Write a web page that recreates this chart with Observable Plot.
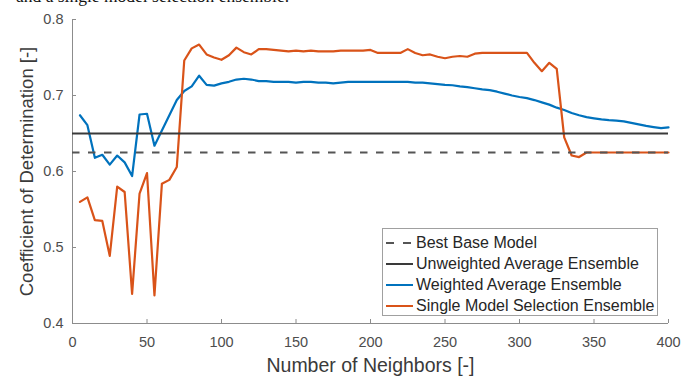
<!DOCTYPE html>
<html><head><meta charset="utf-8">
<script src="https://cdn.jsdelivr.net/npm/d3@7"></script>
<script src="https://cdn.jsdelivr.net/npm/@observablehq/plot@0.6"></script>
<style>
html,body{margin:0;padding:0;background:#fff;}
#wrap{position:relative;width:694px;height:376px;overflow:hidden;background:#fff;}
#cap{position:absolute;left:16px;top:-12.5px;font-size:17.5px;line-height:17.5px;font-family:"Liberation Serif","Times New Roman",serif;color:#111;white-space:nowrap;}
#legend{position:absolute;left:382px;top:228px;width:276px;height:88px;border:1px solid #a0a0a0;background:#fff;box-sizing:border-box;font-family:"Liberation Sans",Arial,sans-serif;font-size:16px;color:#262626;}
.row{position:absolute;left:1px;height:21px;display:flex;align-items:center;white-space:nowrap;}
.row svg{margin-left:1px;margin-right:3px;display:block;}
</style>
</head><body>
<div id="wrap">
  <div id="cap">and a single model selection ensemble.</div>
  <div id="chart"></div>
  <div id="legend"></div>
</div>
<script>
const neighbors = [5,10,15,20,25,30,35,40,45,50,55,60,65,70,75,80,85,90,95,100,
  105,110,115,120,125,130,135,140,145,150,155,160,165,170,175,180,185,190,195,200,
  205,210,215,220,225,230,235,240,245,250,255,260,265,270,275,280,285,290,295,300,
  305,310,315,320,325,330,335,340,345,350,355,360,365,370,375,380,385,390,395,400];

const weighted = [0.674,0.661,0.618,0.622,0.609,0.621,0.612,0.594,0.675,0.676,
  0.634,0.654,0.674,0.694,0.706,0.712,0.726,0.714,0.713,0.716,
  0.718,0.721,0.722,0.721,0.719,0.719,0.718,0.718,0.718,0.717,
  0.718,0.718,0.717,0.717,0.716,0.717,0.718,0.718,0.718,0.718,
  0.718,0.718,0.718,0.718,0.718,0.717,0.717,0.716,0.715,0.714,
  0.7135,0.712,0.711,0.7095,0.708,0.707,0.705,0.7025,0.700,0.698,
  0.6965,0.694,0.691,0.688,0.684,0.681,0.677,0.674,0.6715,0.670,
  0.6685,0.6675,0.667,0.666,0.664,0.662,0.660,0.6585,0.657,0.658];

const single = [0.560,0.566,0.536,0.535,0.489,0.580,0.573,0.439,0.571,0.598,
  0.437,0.584,0.589,0.606,0.746,0.762,0.767,0.754,0.750,0.747,
  0.753,0.763,0.757,0.754,0.761,0.761,0.760,0.759,0.758,0.759,
  0.758,0.759,0.758,0.758,0.758,0.759,0.759,0.759,0.759,0.760,
  0.756,0.756,0.756,0.756,0.761,0.756,0.753,0.754,0.751,0.749,
  0.751,0.752,0.751,0.755,0.756,0.756,0.756,0.756,0.756,0.756,
  0.756,0.743,0.732,0.743,0.735,0.645,0.621,0.619,0.625,0.625,
  0.625,0.625,0.625,0.625,0.625,0.625,0.625,0.625,0.625,0.625];

const bestBase = 0.625;
const unweighted = 0.65;

const xTicks = [0,50,100,150,200,250,300,350,400];
const yTicks = [0.4,0.5,0.6,0.7,0.8];
const xTitle = "Number of Neighbors [-]";
const yTitle = "Coefficient of Determination [-]";

const seriesNames = ["Best Base Model","Unweighted Average Ensemble","Weighted Average Ensemble","Single Model Selection Ensemble"];
const seriesColors = ["#555555","#3a3a3a","#0072BD","#D95319"];
const seriesDash = ["8,9", null, null, null];

const weightedData = neighbors.map((n, i) => ({n, v: weighted[i]}));
const singleData = neighbors.map((n, i) => ({n, v: single[i]}));

const axisColor = "#8c8c8c";

const chart = Plot.plot({
  width: 694, height: 376,
  marginLeft: 72, marginRight: 26, marginTop: 19, marginBottom: 53,
  style: {fontFamily: '"Liberation Sans", Arial, sans-serif', fontSize: "14.5px", color: "#4d4d4d", background: "transparent"},
  x: {domain: [0, 400]},
  y: {domain: [0.4, 0.8]},
  marks: [
    Plot.ruleY([0.4], {stroke: axisColor, strokeWidth: 1}),
    Plot.ruleX([0], {stroke: axisColor, strokeWidth: 1}),
    Plot.ruleX(xTicks, {x: d => d, y1: 0.4, y2: 0.4, insetTop: -4, stroke: axisColor}),
    Plot.ruleY(yTicks, {y: d => d, x1: 0, x2: 0, insetRight: -4, stroke: axisColor}),
    Plot.axisX(xTicks, {tickSize: 0, tickPadding: 13, label: null, fill: "#4d4d4d"}),
    Plot.axisY(yTicks, {tickSize: 0, tickPadding: 9, tickFormat: d3.format(".1f"), label: null, fill: "#4d4d4d"}),
    Plot.line(weightedData, {x: "n", y: "v", stroke: seriesColors[2], strokeWidth: 2.2}),
    Plot.line(singleData, {x: "n", y: "v", stroke: seriesColors[3], strokeWidth: 2.2}),
    Plot.ruleY([bestBase], {stroke: seriesColors[0], strokeWidth: 1.8, strokeDasharray: "7.5,8.5"}),
    Plot.ruleY([unweighted], {stroke: seriesColors[1], strokeWidth: 1.8}),
    Plot.text([xTitle], {frameAnchor: "bottom", dy: 42, fontSize: 19.5, fill: "#3a3a3a", lineAnchor: "middle", textAnchor: "middle"}),
    Plot.text([yTitle], {frameAnchor: "left", dx: -45, rotate: -90, fontSize: 18.5, fill: "#3a3a3a", lineAnchor: "middle", textAnchor: "middle"})
  ]
});
document.getElementById("chart").appendChild(chart);

const legend = document.getElementById("legend");
seriesNames.forEach((name, i) => {
  const row = document.createElement("div");
  row.className = "row";
  row.style.top = (3 + i * 21.3) + "px";
  const dash = seriesDash[i] ? `stroke-dasharray="${seriesDash[i]}"` : "";
  row.innerHTML = `<svg width="28" height="4"><line x1="1" y1="2" x2="28" y2="2" stroke="${seriesColors[i]}" stroke-width="2" ${dash}/></svg><span>${name}</span>`;
  legend.appendChild(row);
});
</script>
</body></html>
